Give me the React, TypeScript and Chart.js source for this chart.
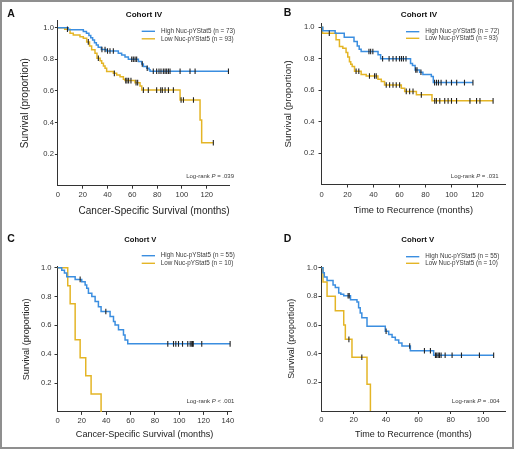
import React, { useEffect, useRef } from 'react';
import { Chart, registerables } from 'chart.js';

Chart.register(...registerables);

// ---------------- DATA ----------------
const HIGH_LABEL_A = 'High Nuc-pYStat5 (n = 73)';
const LOW_LABEL_A = 'Low Nuc-pYStat5 (n = 93)';
const HIGH_LABEL_B = 'High Nuc-pYStat5 (n = 72)';
const LOW_LABEL_B = 'Low Nuc-pYStat5 (n = 93)';
const HIGH_LABEL_CD = 'High Nuc-pYStat5 (n = 55)';
const LOW_LABEL_CD = 'Low Nuc-pYStat5 (n = 10)';

// Panel A: Cohort IV, cancer-specific survival
const A_HIGH_T = [0, 8.4, 20.5, 23, 25, 26.5, 28, 29.5, 31, 32.5, 35, 39, 48.7, 51.4, 54.1, 56.8, 64.9, 67.6, 68.9, 71.6, 73.5, 74.3];
const A_HIGH_S = [1, 0.986, 0.975, 0.964, 0.95, 0.936, 0.922, 0.905, 0.89, 0.876, 0.862, 0.852, 0.838, 0.827, 0.815, 0.8, 0.786, 0.77, 0.755, 0.743, 0.733, 0.724];
const A_HIGH_END = 137.5;
const A_HIGH_CENSOR = [35.5, 38, 40, 42, 44.7, 59.5, 60.8, 62.2, 63.5, 68, 72, 76.9, 79.6, 81.5, 83.1, 85, 86.4, 87.7, 89.1, 90.4, 98.5, 106.5, 110.6, 137.5];
const A_LOW_T = [0, 5.5, 9.8, 12.4, 17.8, 20.5, 23.2, 25.5, 27.2, 29.9, 31.5, 34, 35.3, 36.7, 38, 39.3, 44.7, 47.4, 50.1, 52.8, 54.1, 62.2, 66.2, 67.6, 98.5, 114.6, 115.9];
const A_LOW_S = [1, 0.99, 0.964, 0.954, 0.943, 0.933, 0.91, 0.884, 0.86, 0.838, 0.806, 0.79, 0.775, 0.758, 0.743, 0.722, 0.711, 0.7, 0.69, 0.673, 0.665, 0.652, 0.631, 0.605, 0.542, 0.416, 0.272];
const A_LOW_END = 125.3;
const A_LOW_CENSOR = [7.7, 24.5, 32.6, 45.5, 54.7, 55.7, 57, 58.9, 63, 64.3, 68.9, 72.9, 79.6, 82.9, 84.2, 86.4, 89.1, 93.1, 99.3, 101.2, 109.3, 125.3];

// Panel B: Cohort IV, time to recurrence
const B_HIGH_T = [0, 1, 10.5, 17.5, 25, 27.5, 29, 30.5, 43.5, 45.5, 68.5, 70, 72, 75.5, 78, 84.5, 86];
const B_HIGH_S = [1, 0.978, 0.961, 0.936, 0.909, 0.881, 0.86, 0.846, 0.825, 0.8, 0.77, 0.757, 0.728, 0.714, 0.7, 0.686, 0.648];
const B_HIGH_END = 116.5;
const B_HIGH_CENSOR = [36.5, 37.8, 39.5, 47, 52, 55, 57.5, 60, 61.5, 63, 65, 72.5, 73.5, 76.5, 87, 88.5, 90, 92, 96, 100, 104, 110, 116.5];
const B_LOW_T = [0, 0.8, 11.2, 13.8, 16.4, 18.9, 20.2, 21.5, 22.5, 23.6, 25.4, 30.5, 34.4, 43.4, 46, 48.5, 61.4, 64, 73, 85];
const B_LOW_S = [1, 0.962, 0.92, 0.877, 0.866, 0.84, 0.81, 0.78, 0.765, 0.75, 0.72, 0.7, 0.69, 0.67, 0.655, 0.633, 0.612, 0.592, 0.57, 0.532];
const B_LOW_END = 132;
const B_LOW_CENSOR = [6, 26.6, 28.7, 36.9, 40.8, 42.1, 49.8, 52.4, 55, 57.5, 60.1, 65.2, 67.8, 70.4, 76.8, 87.1, 88.4, 91, 94.8, 97.4, 100, 103.9, 114.2, 119.3, 121.9, 132];

// Panel C: Cohort V, cancer-specific survival
const C_HIGH_T = [0, 3.5, 5.7, 7.6, 14.5, 19.9, 22.7, 24, 25.4, 28.2, 30.9, 33.6, 35.8, 43.2, 46, 47.3, 50.1, 54.2, 55.5, 57.7];
const C_HIGH_S = [1, 0.982, 0.964, 0.938, 0.919, 0.903, 0.88, 0.857, 0.823, 0.8, 0.765, 0.73, 0.696, 0.661, 0.627, 0.603, 0.569, 0.534, 0.499, 0.472];
const C_HIGH_END = 141.8;
const C_HIGH_CENSOR = [18.6, 39.7, 90.6, 95.3, 97.2, 99.4, 102.7, 107, 109, 110.3, 110.9, 111.5, 118.5, 141.8];
const C_LOW_T = [0, 8.4, 10.4, 14.5, 18.6, 23.2, 27.6, 35.8];
const C_LOW_S = [1, 0.875, 0.75, 0.5, 0.375, 0.25, 0.125, 0];
const C_LOW_END = 35.8;
const C_LOW_CENSOR: number[] = [];

// Panel D: Cohort V, time to recurrence
const D_HIGH_T = [0, 1, 1.8, 3.5, 7.2, 8.6, 10.7, 12, 13.8, 18, 22, 23, 24, 25, 28.2, 39.5, 41.6, 43.7, 45.7, 47.8, 49.8, 55, 69.4];
const D_HIGH_S = [1, 0.964, 0.935, 0.91, 0.88, 0.862, 0.823, 0.815, 0.804, 0.776, 0.76, 0.72, 0.684, 0.65, 0.592, 0.557, 0.534, 0.515, 0.495, 0.475, 0.454, 0.42, 0.389];
const D_HIGH_END = 106.5;
const D_HIGH_CENSOR = [16.5, 17.2, 40, 54.6, 63.7, 67.4, 70.5, 71.3, 72.2, 73, 74, 76.5, 80.8, 86.6, 97.7, 106.5];
const D_LOW_T = [0, 1, 3.5, 8.6, 13.8, 14.8, 18.9, 28.2, 30.3];
const D_LOW_S = [1, 0.9, 0.8, 0.7, 0.6, 0.5, 0.375, 0.1875, 0];
const D_LOW_END = 30.3;
const D_LOW_CENSOR = [17, 25];

const X_TICKS_AB = [0, 20, 40, 60, 80, 100, 120];
const X_TICKS_C = [0, 20, 40, 60, 80, 100, 120, 140];
const X_TICKS_D = [0, 20, 40, 60, 80, 100];
const Y_TICKS = [0.2, 0.4, 0.6, 0.8, 1.0];

const LOGRANK_A = '= .039';
const LOGRANK_B = '= .031';
const LOGRANK_C = '< .001';
const LOGRANK_D = '= .004';

// ---------------- STYLE ----------------
const BLUE = '#3b8ee0';
const GOLD = '#e4b526';
const INK = '#333333';
const FONT = '"Liberation Sans", Arial, Helvetica, sans-serif';

function stepValue(t: number[], s: number[], x: number) {
  let v = s[0];
  for (let i = 0; i < t.length; i++) if (t[i] <= x) v = s[i];
  return v;
}
function curvePoints(t: number[], s: number[], end: number) {
  const pts = t.map((x, i) => ({ x, y: s[i] }));
  pts.push({ x: end, y: s[s.length - 1] });
  return pts;
}
function censorPoints(t: number[], s: number[], c: number[]) {
  return c.map((x) => ({ x, y: stepValue(t, s, x) }));
}

type Series = { label: string; color: string; t: number[]; s: number[]; end: number; censor: number[] };

const PANELS = [
  {
    key: 'A', left: 0, top: 0, w: 257, h: 225,
    padTop: 20.7, yMax: 1.044, padRight: 27.3, yWidth: 57.9, xHeight: 39.3, xMax: 138.5, xTicks: X_TICKS_AB,
    yTickPad: 1, xTickPad: 1.2,
    xTitle: 'Cancer-Specific Survival (months)', xTitleSize: 10, xTitlePad: 8, xTitleAlign: 'end',
    yTitle: 'Survival (proportion)', yTitleSize: 10, yTitlePad: 19,
    letter: 'A', letterX: 7.3, letterY: 14, title: 'Cohort IV', titleX: 144, titleY: 14.7, titleSize: 8.1,
    legLine: [141.7, 155], legText: 161, legY: [31.3, 38.8],
    logrank: LOGRANK_A, logX: 234, logY: 176.7,
    series: [
      { label: HIGH_LABEL_A, color: BLUE, t: A_HIGH_T, s: A_HIGH_S, end: A_HIGH_END, censor: A_HIGH_CENSOR },
      { label: LOW_LABEL_A, color: GOLD, t: A_LOW_T, s: A_LOW_S, end: A_LOW_END, censor: A_LOW_CENSOR },
    ] as Series[],
  },
  {
    key: 'B', left: 257, top: 0, w: 257, h: 225,
    padTop: 23.3, yMax: 1.025, padRight: 8.7, yWidth: 64.5, xHeight: 40.5, xMax: 141.4, xTicks: X_TICKS_AB,
    yTickPad: 4, xTickPad: 3,
    xTitle: 'Time to Recurrence (months)', xTitleSize: 9.2, xTitlePad: 8.9, xTitleAlign: 'center',
    yTitle: 'Survival (proportion)', yTitleSize: 9.7, yTitlePad: 25.9,
    letter: 'B', letterX: 26.7, letterY: 13.5, title: 'Cohort IV', titleX: 162, titleY: 14.7, titleSize: 8.1,
    legLine: [149, 162.3], legText: 168.3, legY: [31.7, 38.3],
    logrank: LOGRANK_B, logX: 241.7, logY: 176.7,
    series: [
      { label: HIGH_LABEL_B, color: BLUE, t: B_HIGH_T, s: B_HIGH_S, end: B_HIGH_END, censor: B_HIGH_CENSOR },
      { label: LOW_LABEL_B, color: GOLD, t: B_LOW_T, s: B_LOW_S, end: B_LOW_END, censor: B_LOW_CENSOR },
    ] as Series[],
  },
  {
    key: 'C', left: 0, top: 225, w: 257, h: 224,
    padTop: 41.7, yMax: 1.007, padRight: 25.3, yWidth: 57.5, xHeight: 37.1, xMax: 143.1, xTicks: X_TICKS_C,
    yTickPad: 3, xTickPad: 1,
    xTitle: 'Cancer-Specific Survival (months)', xTitleSize: 9.1, xTitlePad: 9.2, xTitleAlign: 'center',
    yTitle: 'Survival (proportion)', yTitleSize: 9.1, yTitlePad: 21.2,
    letter: 'C', letterX: 7.3, letterY: 14, title: 'Cohort V', titleX: 140.3, titleY: 14.7, titleSize: 7.6,
    legLine: [141.7, 155], legText: 160.7, legY: [30.7, 38.3],
    logrank: LOGRANK_C, logX: 234.3, logY: 176.7,
    series: [
      { label: HIGH_LABEL_CD, color: BLUE, t: C_HIGH_T, s: C_HIGH_S, end: C_HIGH_END, censor: C_HIGH_CENSOR },
      { label: LOW_LABEL_CD, color: GOLD, t: C_LOW_T, s: C_LOW_S, end: C_LOW_END, censor: C_LOW_CENSOR },
    ] as Series[],
  },
  {
    key: 'D', left: 257, top: 225, w: 257, h: 224,
    padTop: 41.7, yMax: 1.007, padRight: 8.7, yWidth: 64.4, xHeight: 38, xMax: 113.7, xTicks: X_TICKS_D,
    yTickPad: 1, xTickPad: 1.5,
    xTitle: 'Time to Recurrence (months)', xTitleSize: 9.0, xTitlePad: 9.3, xTitleAlign: 'center',
    yTitle: 'Survival (proportion)', yTitleSize: 8.9, yTitlePad: 29.7,
    letter: 'D', letterX: 26.7, letterY: 14, title: 'Cohort V', titleX: 160.8, titleY: 14.7, titleSize: 7.8,
    legLine: [149, 162.3], legText: 168.3, legY: [31.7, 38.3],
    logrank: LOGRANK_D, logX: 242.7, logY: 176.7,
    series: [
      { label: HIGH_LABEL_CD, color: BLUE, t: D_HIGH_T, s: D_HIGH_S, end: D_HIGH_END, censor: D_HIGH_CENSOR },
      { label: LOW_LABEL_CD, color: GOLD, t: D_LOW_T, s: D_LOW_S, end: D_LOW_END, censor: D_LOW_CENSOR },
    ] as Series[],
  },
];

type Spec = (typeof PANELS)[number];

function drawTexts(ctx: CanvasRenderingContext2D, sp: Spec) {
  ctx.save();
  ctx.textBaseline = 'middle';
  // panel letter
  ctx.fillStyle = '#111';
  ctx.textAlign = 'left';
  ctx.font = `bold 10.5px ${FONT}`;
  ctx.fillText(sp.letter, sp.letterX, sp.letterY);
  // cohort title
  ctx.textAlign = 'center';
  ctx.font = `bold ${sp.titleSize}px ${FONT}`;
  ctx.fillText(sp.title, sp.titleX, sp.titleY);
  // legend
  sp.series.forEach((se, i) => {
    const y = sp.legY[i];
    ctx.strokeStyle = se.color;
    ctx.lineWidth = 1.4;
    ctx.beginPath();
    ctx.moveTo(sp.legLine[0], y);
    ctx.lineTo(sp.legLine[1], y);
    ctx.stroke();
    ctx.fillStyle = '#3a3a3a';
    ctx.textAlign = 'left';
    ctx.font = `6.3px ${FONT}`;
    ctx.fillText(se.label, sp.legText, y);
  });
  // log-rank
  const parts: [string, string][] = [
    ['Log-rank ', `6px ${FONT}`],
    ['P', `italic 6px ${FONT}`],
    [' ' + sp.logrank, `6px ${FONT}`],
  ];
  let total = 0;
  parts.forEach(([txt, f]) => { ctx.font = f; total += ctx.measureText(txt).width; });
  let x = sp.logX - total;
  ctx.fillStyle = '#3a3a3a';
  ctx.textAlign = 'left';
  parts.forEach(([txt, f]) => { ctx.font = f; ctx.fillText(txt, x, sp.logY); x += ctx.measureText(txt).width; });
  ctx.restore();
}

function Panel({ sp }: { sp: Spec }) {
  const ref = useRef<HTMLCanvasElement>(null);
  useEffect(() => {
    if (!ref.current) return;
    const datasets: any[] = [];
    sp.series.forEach((se) => {
      datasets.push({
        label: se.label,
        data: curvePoints(se.t, se.s, se.end),
        borderColor: se.color,
        backgroundColor: se.color,
        borderWidth: 1.5,
        stepped: true,
        pointRadius: 0,
        fill: false,
        order: 2,
      });
    });
    sp.series.forEach((se) => {
      datasets.push({
        label: se.label + ' (censored)',
        data: censorPoints(se.t, se.s, se.censor),
        showLine: false,
        pointStyle: 'line',
        pointRotation: 90,
        pointRadius: 2.8,
        pointBorderColor: '#222',
        pointBackgroundColor: '#222',
        pointBorderWidth: 1.1,
        borderColor: '#222',
        order: 0,
      });
    });
    const tickColor = (c: any) => (c.tick && c.tick.value === 0 ? 'rgba(0,0,0,0)' : INK);
    const chart = new Chart(ref.current, {
      type: 'line',
      data: { datasets },
      plugins: [{ id: 'panelText', afterDraw: (ch: any) => drawTexts(ch.ctx, sp) }],
      options: {
        responsive: false,
        devicePixelRatio: 1,
        animation: false,
        events: [],
        layout: { padding: { top: sp.padTop, right: sp.padRight, left: 0, bottom: 0 } },
        plugins: { legend: { display: false }, tooltip: { enabled: false }, title: { display: false } },
        scales: {
          x: {
            type: 'linear',
            min: 0,
            max: sp.xMax,
            afterBuildTicks: (sc: any) => { sc.ticks = sp.xTicks.map((v) => ({ value: v })); },
            afterFit: (sc: any) => { sc.height = sp.xHeight; },
            ticks: {
              font: { family: FONT, size: 7.6 }, color: INK, padding: sp.xTickPad,
              maxRotation: 0, autoSkip: false, callback: (v: any) => String(v),
            },
            grid: { drawOnChartArea: false, drawTicks: true, tickLength: 3, color: tickColor, lineWidth: 1 },
            border: { display: true, color: INK, width: 1 },
            title: {
              display: true, text: sp.xTitle, color: '#222',
              font: { family: FONT, size: sp.xTitleSize }, align: sp.xTitleAlign as any,
              padding: { top: 0, bottom: sp.xTitlePad },
            },
          },
          y: {
            type: 'linear',
            min: 0,
            max: sp.yMax,
            afterBuildTicks: (sc: any) => { sc.ticks = Y_TICKS.map((v) => ({ value: v })); },
            afterFit: (sc: any) => { sc.width = sp.yWidth; },
            ticks: {
              font: { family: FONT, size: 7.6 }, color: INK, padding: sp.yTickPad,
              callback: (v: any) => Number(v).toFixed(1),
            },
            grid: { drawOnChartArea: false, drawTicks: true, tickLength: 3, color: INK, lineWidth: 1 },
            border: { display: true, color: INK, width: 1 },
            title: {
              display: true, text: sp.yTitle, color: '#222',
              font: { family: FONT, size: sp.yTitleSize },
              padding: { top: sp.yTitlePad, bottom: 0 },
            },
          },
        },
      } as any,
    });
    return () => chart.destroy();
  }, [sp]);
  return (
    <canvas
      ref={ref}
      width={sp.w}
      height={sp.h}
      style={{ position: 'absolute', left: sp.left, top: sp.top, width: sp.w, height: sp.h }}
    />
  );
}

export default function App() {
  return (
    <div style={{ position: 'absolute', left: 0, top: 0, width: 514, height: 449, background: '#fff', overflow: 'hidden' }}>
      {PANELS.map((sp) => (
        <Panel key={sp.key} sp={sp} />
      ))}
      <div
        style={{
          position: 'absolute', left: 0, top: 0, width: 514, height: 449,
          boxSizing: 'border-box', border: '2px solid #8f8f8f', pointerEvents: 'none',
        }}
      />
    </div>
  );
}
